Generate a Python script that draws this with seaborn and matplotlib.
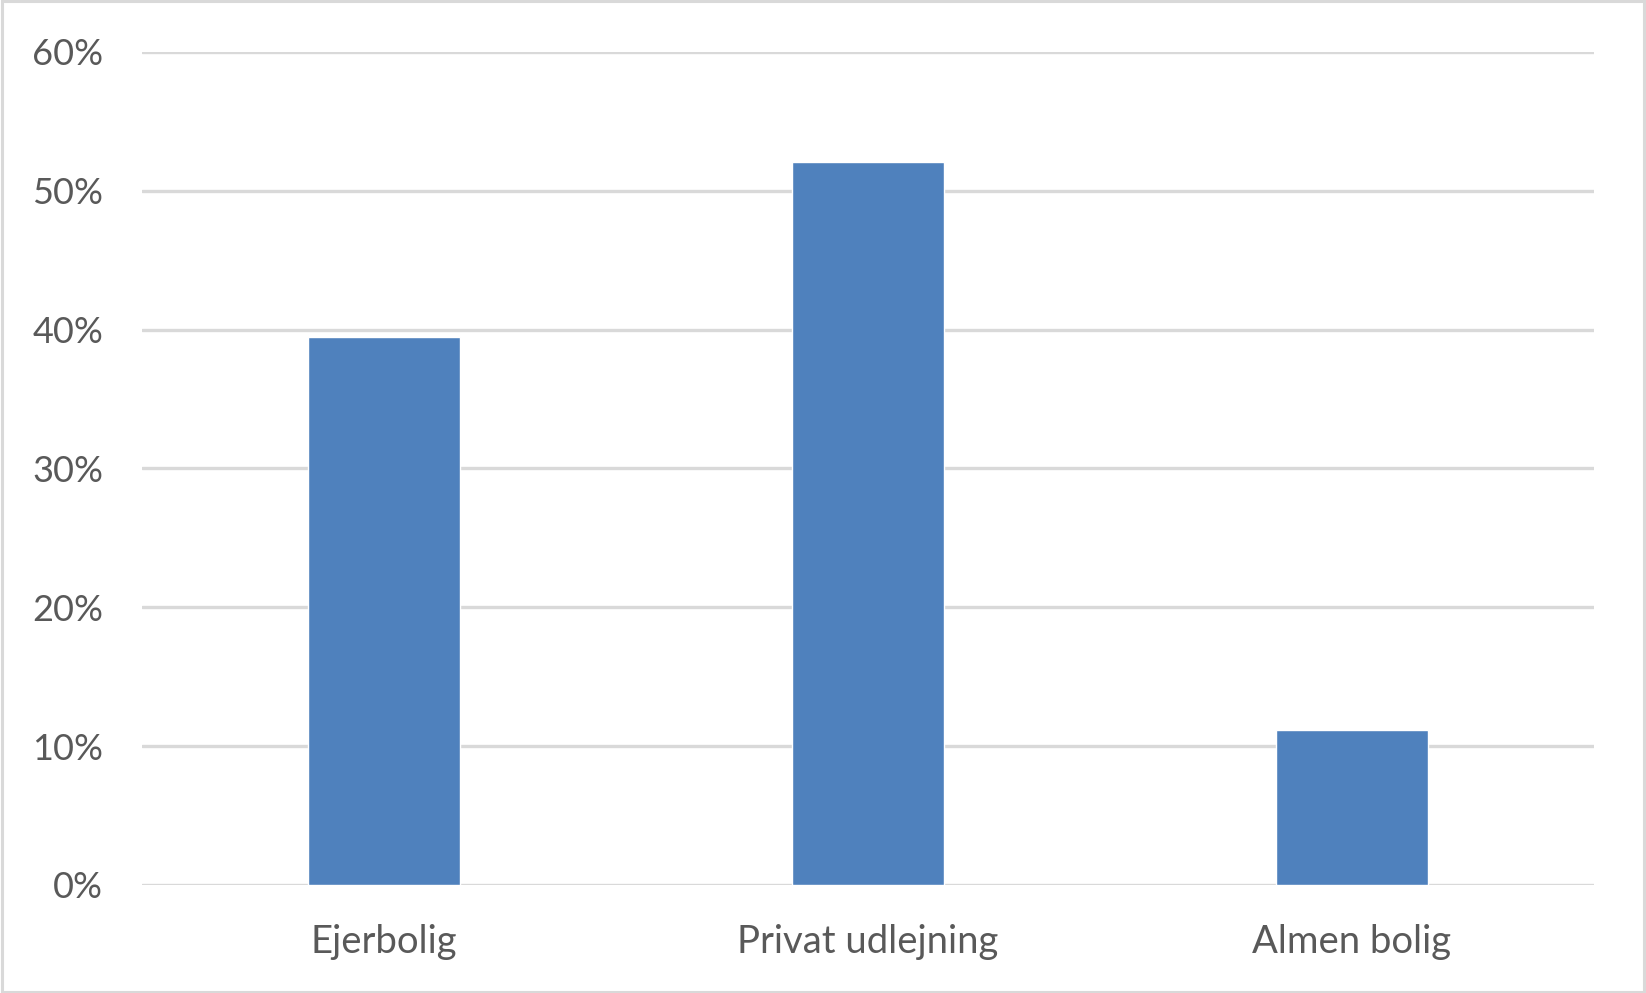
import matplotlib
matplotlib.use("Agg")
import matplotlib.pyplot as plt
import seaborn as sns
import pandas as pd
from matplotlib.ticker import PercentFormatter

# data
boligtyper = ["Ejerbolig", "Privat udlejning", "Almen bolig"]
andele = [0.395, 0.521, 0.112]
y_ticks = [0, 0.1, 0.2, 0.3, 0.4, 0.5, 0.6]

df = pd.DataFrame({"bolig": boligtyper, "andel": andele})

sns.set_theme(style="white")
plt.rcParams["font.family"] = ["Lato", "DejaVu Sans"]

fig = plt.figure(figsize=(16.46, 9.93), dpi=100)
ax = fig.add_axes([142 / 1646, 108 / 993, 1452 / 1646, 833 / 993])

sns.barplot(data=df, x="bolig", y="andel", color="#4f81bd", saturation=1,
            width=0.314, ax=ax, zorder=3)

ax.set_xlim(-0.5, 2.5)
ax.set_ylim(0, 0.6)
ax.set_yticks(y_ticks)
ax.yaxis.set_major_formatter(PercentFormatter(1.0, decimals=0))
ax.grid(axis="y", color="#d9d9d9", linewidth=2.4, zorder=0)
ax.set_axisbelow(True)
for s in ax.spines.values():
    s.set_visible(False)
ax.set_xlabel("")
ax.set_ylabel("")
ax.tick_params(axis="y", length=0, pad=28, labelsize=26, labelcolor="#595959")
ax.tick_params(axis="x", length=0, pad=28, labelsize=27.5, labelcolor="#595959")

# outer border of the chart
border = plt.Rectangle((0.001, 0.001), 0.998, 0.998, transform=fig.transFigure,
                       fill=False, edgecolor="#d9d9d9", linewidth=2.2)
fig.patches.append(border)

fig.savefig("out.png", dpi=100)
